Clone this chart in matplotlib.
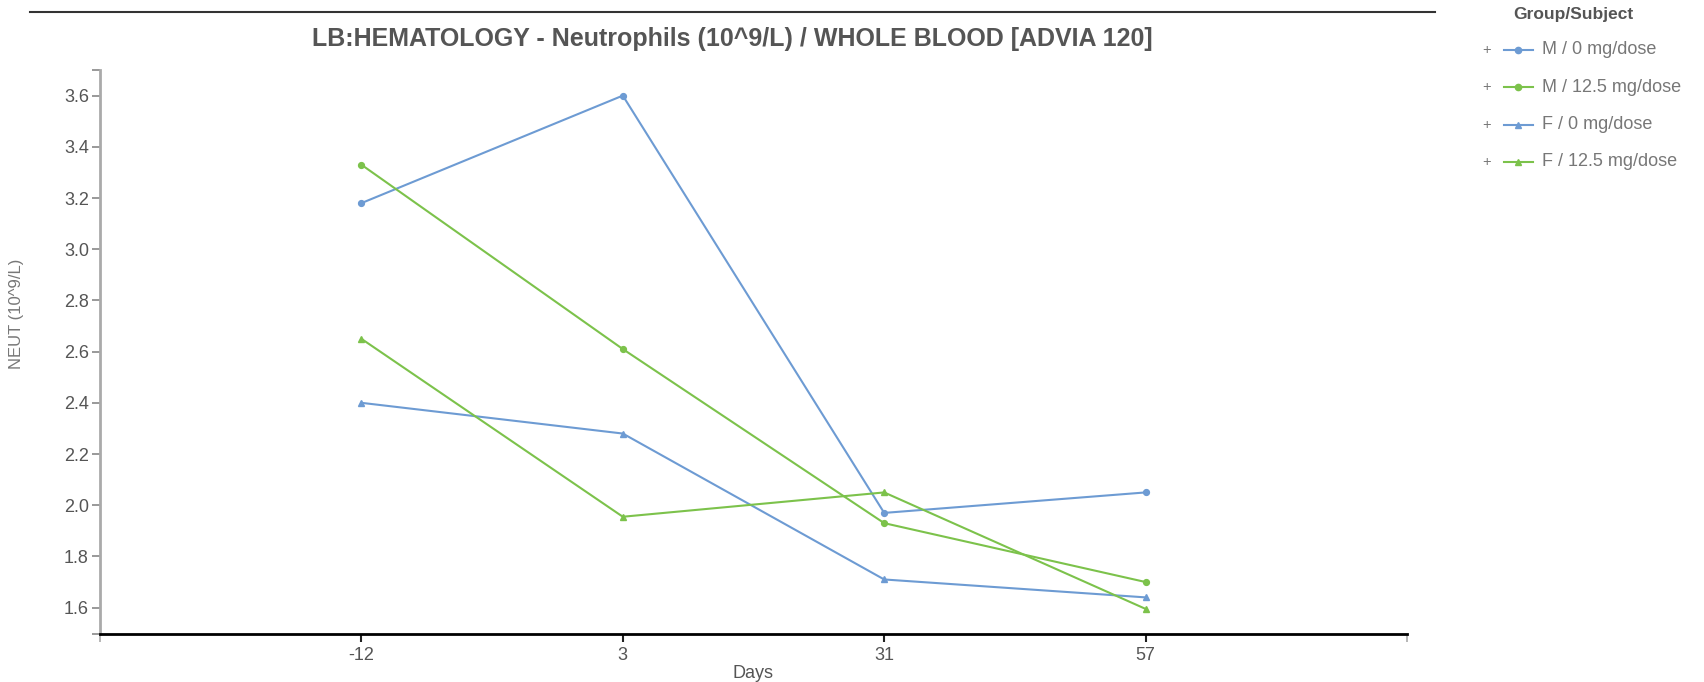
import matplotlib
matplotlib.use('Agg')
import matplotlib.pyplot as plt
from matplotlib.lines import Line2D

plt.rcParams['font.family'] = ['Liberation Sans', 'DejaVu Sans']

days = ['-12', '3', '31', '57']
m0 = [3.18, 3.60, 1.97, 2.05]
m125 = [3.33, 2.61, 1.93, 1.70]
f0 = [2.40, 2.28, 1.71, 1.64]
f125 = [2.65, 1.955, 2.05, 1.595]
names = ['M / 0 mg/dose', 'M / 12.5 mg/dose', 'F / 0 mg/dose', 'F / 12.5 mg/dose']
yticks = [1.6, 1.8, 2.0, 2.2, 2.4, 2.6, 2.8, 3.0, 3.2, 3.4, 3.6]

blue = '#6d9bd3'
green = '#7cc24b'
series = [(m0, blue, 'o'), (m125, green, 'o'), (f0, blue, '^'), (f125, green, '^')]

W, H = 1704, 682
fig = plt.figure(figsize=(W/100, H/100), dpi=100)
ax = fig.add_axes([100/W, 48/H, 1307/W, 564/H])

x = range(len(days))
for (vals, c, m), n in zip(series, names):
    ax.plot(x, vals, color=c, marker=m, markersize=4.2, lw=1.5, label=n)

ax.set_xlim(-1, 4)
ax.set_ylim(1.497, 3.70)
ax.set_xticks(list(x))
ax.set_xticklabels(days)
ax.set_xticks([-1, 4], minor=True)
ax.set_yticks(yticks)
ax.set_yticklabels(['%.1f' % v for v in yticks])
ax.set_yticks([1.497, 3.70], minor=True)

for s in ['top', 'right']:
    ax.spines[s].set_visible(False)
ax.spines['left'].set_color('#aaaaaa')
ax.spines['left'].set_linewidth(2)
ax.spines['bottom'].set_color('black')
ax.spines['bottom'].set_linewidth(2)
ax.tick_params(axis='y', which='both', length=6, width=1.2, color='#888888',
               labelcolor='#555555', labelsize=13, pad=2)
ax.tick_params(axis='x', which='major', length=6, width=1.5, color='#222222',
               labelcolor='#555555', labelsize=13, pad=3)
ax.tick_params(axis='x', which='minor', length=6, width=1.2, color='#aaaaaa')

ax.set_xlabel('Days', color='#555555', fontsize=13, labelpad=1)
ax.set_ylabel('NEUT (10^9/L)', color='#777777', fontsize=12)
ax.yaxis.set_label_coords(-76/1307, 0.567)

fig.text(732/W, 1 - 39/H, 'LB:HEMATOLOGY - Neutrophils (10^9/L) / WHOLE BLOOD [ADVIA 120]',
         ha='center', va='center', fontsize=18, fontweight='bold', color='#555555')
fig.add_artist(Line2D([30/W, 1435/W], [1 - 12/H, 1 - 12/H], color='#333333', lw=1.5))

# legend
fig.text(1573/W, 1 - 14/H, 'Group/Subject', ha='center', va='center',
         fontsize=12.5, fontweight='bold', color='#555555')
for i, ((vals, c, m), n) in enumerate(zip(series, names)):
    yy = 1 - (50 + 37.3 * i)/H
    fig.text(1487/W, yy, '+', ha='center', va='center', fontsize=10.5, color='#777777')
    fig.add_artist(Line2D([1504/W, 1533/W], [yy, yy], color=c, lw=1.5))
    fig.add_artist(Line2D([1518/W], [yy], color=c, marker=m, markersize=4.5, lw=0))
    fig.text(1542/W, yy, n, ha='left', va='center', fontsize=13, color='#777777')

fig.savefig('out.png', dpi=100)
